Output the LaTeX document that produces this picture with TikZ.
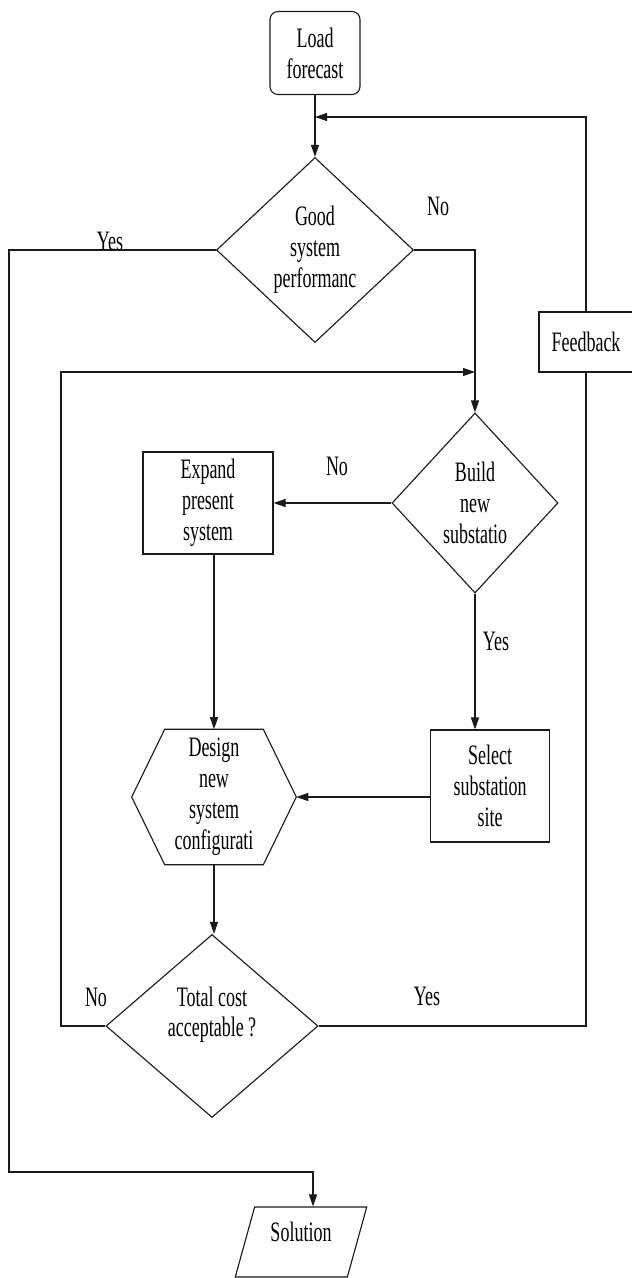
\documentclass[tikz,border=0pt]{standalone}
\usepackage{fontspec}
\setmainfont{Liberation Serif}[FakeStretch=0.64]
\usetikzlibrary{arrows.meta,shapes.geometric,calc}
\definecolor{ink}{HTML}{1A1A1A}
\tikzset{
  box/.style={draw=ink, line width=0.8pt, align=center, inner sep=0pt},
  decision/.style={box, diamond, aspect=1},
  flow/.style={draw=ink, line width=0.8pt, -{Triangle[length=0.3cm,width=0.2cm]}},
  wire/.style={draw=ink, line width=0.8pt},
  tag/.style={inner sep=0pt}
}

\begin{document}
\begin{tikzpicture}[x=0.025cm, y=-0.025cm, font=\fontsize{20}{22}\selectfont]
  \useasboundingbox (0,0) rectangle (632,1278);

  \node[box, rounded corners=0.2cm, minimum width=2.25cm, minimum height=2.075cm] (load) at (315,53) {Load\\forecast};
  \node[decision, minimum width=4.925cm, minimum height=4.625cm] (good) at (315,250) {Good\\system\\performanc};
  \node[box, minimum width=2.35cm, minimum height=1.5cm] (feedback) at (586,342) {Feedback};
  \node[decision, minimum width=4.15cm, minimum height=4.5cm] (build) at (475,503) {Build\\new\\substatio};
  \node[box, minimum width=3.25cm, minimum height=2.55cm] (expand) at (208,503) {Expand\\present\\system};
  \node[box, minimum width=2.975cm, minimum height=2.8cm] (select) at (490,786) {Select\\substation\\site};
  \node[align=center, inner sep=0pt, minimum width=4.1cm, minimum height=3.375cm] (design) at (214,797) {Design\\new\\system\\configurati};
  \draw[wire] (design.west) -- ([xshift=0.825cm]design.north west) -- ([xshift=-0.825cm]design.north east)
    -- (design.east) -- ([xshift=-0.825cm]design.south east) -- ([xshift=0.825cm]design.south west) -- cycle;
  \node[decision, minimum width=5.3cm, minimum height=4.575cm, text depth=20pt] (cost) at (212,1026) {\shortstack{Total cost\\[4pt]acceptable ?}};
  \node[box, trapezium, trapezium left angle=72, trapezium right angle=108, trapezium stretches=true,
    minimum width=3.3cm, minimum height=1.75cm, text depth=14pt] (solution) at (301,1242) {Solution};

  \coordinate (fbjoin) at (315,117);
  \coordinate (yesrail) at (9,1172);
  \coordinate (norail) at (61,372);

  \draw[flow] (load) -- (good);
  \draw[flow] (feedback.north) |- (fbjoin);
  \draw[flow] (good.west) -| (yesrail) -| ([xshift=0.3cm]solution.north);
  \draw[flow] (good.east) -| (build.north);
  \draw[flow] (cost.west) -| (norail) -- (build.north |- norail);
  \draw[flow] (build.west) -- (expand.east);
  \draw[flow] (build.south) -- (build.south |- select.north);
  \draw[flow] (expand.south -| design.north) -- (design.north);
  \draw[flow] (select.west |- design.east) -- (design.east);
  \draw[flow] (design.south) -- (design.south |- cost.north);
  \draw[wire] (cost.east) -| (feedback.south);

  \node[tag] (yesgood) at (110,241) {Yes};
  \node[tag] (nogood) at (438,206) {No};
  \node[tag] (nobuild) at (337,466) {No};
  \node[tag] (yesbuild) at (496,641) {Yes};
  \node[tag] (nocost) at (96,997) {No};
  \node[tag] (yescost) at (427,996) {Yes};
\end{tikzpicture}
\end{document}
